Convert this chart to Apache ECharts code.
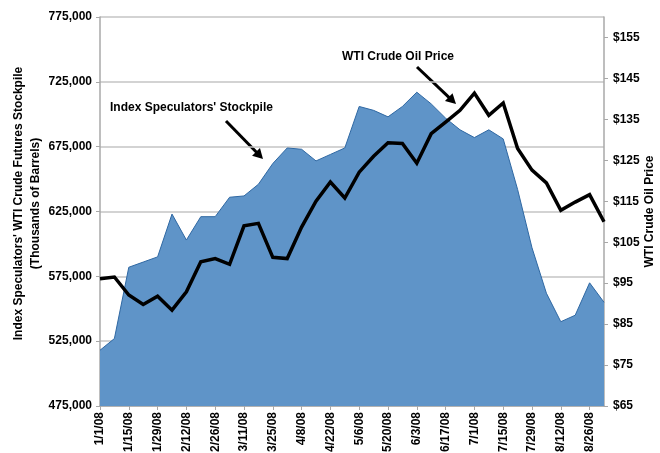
<!DOCTYPE html>
<html>
<head>
<meta charset="utf-8">
<script src="https://cdn.jsdelivr.net/npm/echarts@6/dist/echarts.min.js"></script>
<style>
html,body{margin:0;padding:0;background:#fff;}
#chart{width:660px;height:453px;}
</style>
</head>
<body>
<div id="chart"></div>
<script>
var weeks = ['1/1/08','1/8/08','1/15/08','1/22/08','1/29/08','2/5/08','2/12/08','2/19/08','2/26/08','3/4/08','3/11/08','3/18/08','3/25/08','4/1/08','4/8/08','4/15/08','4/22/08','4/29/08','5/6/08','5/13/08','5/20/08','5/27/08','6/3/08','6/10/08','6/17/08','6/24/08','7/1/08','7/8/08','7/15/08','7/22/08','7/29/08','8/5/08','8/12/08','8/19/08','8/26/08','9/2/08'];
var stockpile = [518000,527000,582000,586000,590000,623000,603000,621000,621000,636000,637000,646000,662000,674000,673000,664000,669000,674000,706000,703000,698000,706000,717000,708000,697000,688000,682000,688000,681000,642000,597000,562000,540000,545000,570000,555000];
var wtiPrice = [96.1,96.5,92.1,89.8,91.8,88.4,92.9,100.2,101.0,99.6,109.0,109.6,101.3,101.0,108.7,115.0,119.7,115.8,122.1,126.0,129.3,129.1,124.3,131.5,134.3,137.2,141.4,136.0,139.0,127.9,122.6,119.5,112.8,114.8,116.6,110.0];
var leftTicks = [475000,525000,575000,625000,675000,725000,775000];
var rightTicks = [65,75,85,95,105,115,125,135,145,155];
var leftName = "Index Speculators' WTI Crude Futures Stockpile\n(Thousands of Barrels)";
var rightName = 'WTI Crude Oil Price';
var noteStock = "Index Speculators' Stockpile";
var notePrice = 'WTI Crude Oil Price';

var FONT = '"Liberation Sans", Arial, Helvetica, sans-serif';
var chart = echarts.init(document.getElementById('chart'), null, {renderer:'canvas'});

function arrow(x1,y1,x2,y2){
  var dx=x2-x1, dy=y2-y1, L=Math.sqrt(dx*dx+dy*dy), ux=dx/L, uy=dy/L;
  var hl=10, hw=5.5;
  var bx=x2-ux*hl, by=y2-uy*hl;
  return [
    {type:'line', shape:{x1:x1,y1:y1,x2:bx+ux*1,y2:by+uy*1}, style:{stroke:'#000',lineWidth:3}},
    {type:'polygon', shape:{points:[[x2,y2],[bx-uy*hw,by+ux*hw],[bx+uy*hw,by-ux*hw]]}, style:{fill:'#000'}}
  ];
}

var graphics = [
  {type:'text', left:110, top:102, style:{text:noteStock, font:'bold 12px '+FONT, fill:'#000'}},
  {type:'text', left:342, top:51, style:{text:notePrice, font:'bold 12px '+FONT, fill:'#000'}}
].concat(arrow(226,121,263,159)).concat(arrow(417,67,456,104));

chart.setOption({
  animation:false,
  backgroundColor:'#fff',
  grid:{left:100, right:56, top:17, bottom:47, containLabel:false, outerBoundsMode:'none'},
  xAxis:{
    type:'category', data:weeks, boundaryGap:false,
    axisLine:{lineStyle:{color:'#a8a8a8', width:1.5}},
    axisTick:{show:true, interval:1, length:4, lineStyle:{color:'#a8a8a8'}},
    axisLabel:{interval:1, rotate:90, margin:6, color:'#000', fontWeight:'bold', fontSize:12, fontFamily:FONT},
    splitLine:{show:false}
  },
  yAxis:[{
    type:'value', position:'left', min:475000, max:775000, interval:25000,
    name:leftName, nameLocation:'middle', nameGap:56, nameMoveOverlap:false,
    nameTextStyle:{color:'#000', fontWeight:'bold', fontSize:12, fontFamily:FONT, lineHeight:17, align:'center', padding:[0,0,0,16]},
    axisLine:{show:true, lineStyle:{color:'#a8a8a8', width:1.5}},
    axisTick:{show:true, length:4, customValues:leftTicks, lineStyle:{color:'#a8a8a8'}},
    axisLabel:{customValues:leftTicks, margin:8, color:'#000', fontWeight:'bold', fontSize:12, fontFamily:FONT,
      formatter:function(v){return v.toLocaleString('en-US');}},
    splitLine:{show:true, lineStyle:{color:'#c4c4c4', width:1.5}}
  },{
    type:'value', position:'right', min:65, max:160, interval:5,
    name:rightName, nameLocation:'middle', nameGap:40, nameMoveOverlap:false,
    nameTextStyle:{color:'#000', fontWeight:'bold', fontSize:12, fontFamily:FONT},
    axisLine:{show:true, lineStyle:{color:'#a8a8a8', width:1.5}},
    axisTick:{show:true, length:4, customValues:rightTicks, lineStyle:{color:'#a8a8a8'}},
    axisLabel:{customValues:rightTicks, margin:9, color:'#000', fontWeight:'bold', fontSize:12, fontFamily:FONT,
      formatter:function(v){return '$'+v;}},
    splitLine:{show:false}
  }],
  series:[{
    type:'line', name:'Stockpile', data:stockpile, yAxisIndex:0,
    symbol:'none', lineStyle:{color:'#2f68a3', width:1},
    areaStyle:{color:'#5f94c8', opacity:1, origin:'start'},
    z:2
  },{
    type:'line', name:'WTI', data:wtiPrice, yAxisIndex:1,
    symbol:'none', lineStyle:{color:'#000', width:3.5, join:'miter'},
    z:3
  }],
  graphic:graphics
});
</script>
</body>
</html>
